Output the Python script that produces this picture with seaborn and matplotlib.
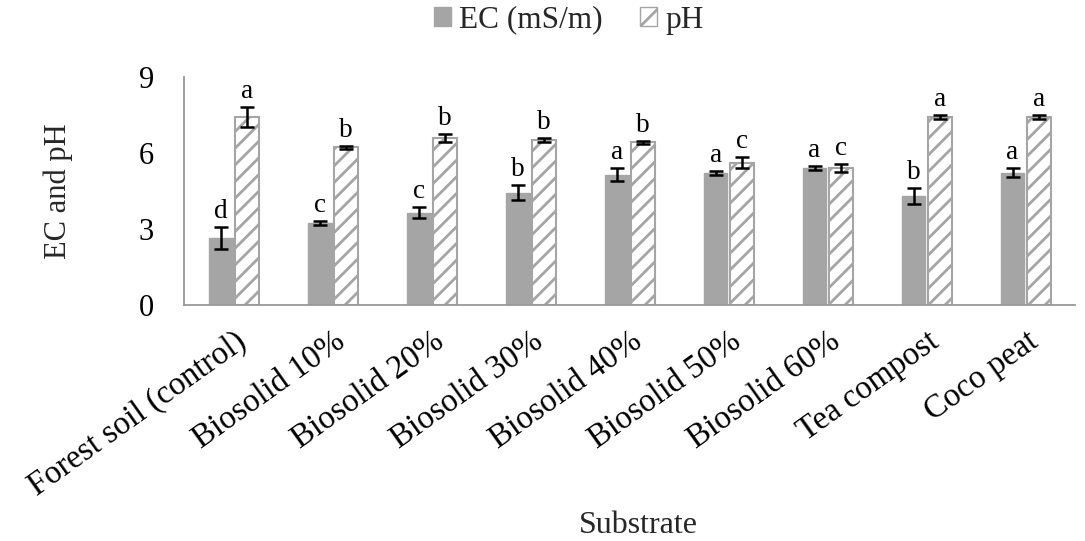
import matplotlib
matplotlib.use("Agg")
import matplotlib.pyplot as plt
import seaborn as sns
import pandas as pd
import numpy as np

categories = ["Forest soil (control)", "Biosolid 10%", "Biosolid 20%", "Biosolid 30%",
              "Biosolid 40%", "Biosolid 50%", "Biosolid 60%", "Tea compost", "Coco peat"]
ec_values = [2.65, 3.22, 3.65, 4.43, 5.14, 5.22, 5.40, 4.30, 5.22]
ec_err = [0.42, 0.08, 0.20, 0.30, 0.25, 0.08, 0.08, 0.30, 0.18]
ph_values = [7.42, 6.22, 6.60, 6.52, 6.42, 5.62, 5.40, 7.40, 7.42]
ph_err = [0.38, 0.06, 0.16, 0.08, 0.06, 0.20, 0.16, 0.08, 0.08]
ec_letters = ["d", "c", "c", "b", "a", "a", "a", "b", "a"]
ph_letters = ["a", "b", "b", "b", "b", "c", "c", "a", "a"]
series = ["EC (mS/m)", "pH"]
yticks = [0, 3, 6, 9]

sns.set_theme(style="white")
plt.rcParams['font.family'] = ['Liberation Serif', 'DejaVu Serif']
plt.rcParams['hatch.linewidth'] = 2.0
plt.rcParams['hatch.color'] = "#a5a5a5"

df = pd.DataFrame({
    "Substrate": categories * 2,
    "value": ec_values + ph_values,
    "err": ec_err + ph_err,
    "letter": ec_letters + ph_letters,
    "series": [series[0]] * len(categories) + [series[1]] * len(categories),
})

fig = plt.figure(figsize=(10.85, 5.41), dpi=100)
ax = fig.add_axes([0.170, 0.436, 0.821, 0.422])

gray = "#a5a5a5"
sns.barplot(data=df, x="Substrate", y="value", hue="series", order=categories,
            hue_order=series, palette=[gray, "white"], width=0.535, gap=0.10,
            errorbar=None, ax=ax, legend=True)

bar_containers = list(ax.containers)
for i, container in enumerate(bar_containers):
    sub = df[df["series"] == series[i]].reset_index(drop=True)
    for j, bar in enumerate(container):
        if i == 0:
            bar.set_facecolor(gray)
            bar.set_edgecolor(gray)
        else:
            bar.set_facecolor("white")
            bar.set_edgecolor(gray)
            bar.set_hatch("//")
            bar.set_linewidth(1.5)
        cx = bar.get_x() + bar.get_width() / 2
        v = sub.loc[j, "value"]
        e = sub.loc[j, "err"]
        ax.errorbar(cx, v, yerr=e, fmt="none", ecolor="black", elinewidth=1.8,
                    capsize=5, capthick=1.8, zorder=5)
        ax.text(cx, v + e + 0.12, sub.loc[j, "letter"], ha="center", va="bottom",
                fontsize=19.5, color="black")

ax.set_ylim(0, 9)
ax.set_yticks(yticks)
ax.set_yticklabels([str(t) for t in yticks], fontsize=22)
ax.set_xlim(-0.5, len(categories) - 0.5)
ax.set_xticks(range(len(categories)))
ax.set_xticklabels(categories, rotation=35.5, ha="right", rotation_mode="anchor", fontsize=23.5)
ax.tick_params(axis="x", length=0, pad=15, colors="black")
ax.tick_params(axis="y", length=0, pad=22, colors="black")
ax.set_ylabel("EC and pH", fontsize=22, va="center")
ax.yaxis.set_label_coords(-0.1416, 0.5)
ax.set_xlabel("Substrate", fontsize=23, va="center")
ax.xaxis.set_label_coords(0.51, -0.965)

for s in ["top", "right"]:
    ax.spines[s].set_visible(False)
for s in ["left", "bottom"]:
    ax.spines[s].set_color("#999999")
    ax.spines[s].set_linewidth(1.3)

handles, labels = ax.get_legend_handles_labels()
leg = fig.legend(handles, labels, loc="center", bbox_to_anchor=(0.524, 0.963), ncol=2,
                 frameon=False, fontsize=22.5, handlelength=0.55, handleheight=0.55,
                 handletextpad=0.25, columnspacing=1.2)
if ax.get_legend():
    ax.get_legend().remove()
lh = leg.legend_handles
lh[0].set_facecolor(gray); lh[0].set_edgecolor(gray)
lh[1].set_facecolor("white"); lh[1].set_edgecolor(gray); lh[1].set_hatch("/")

fig.savefig("out.png", dpi=100)
